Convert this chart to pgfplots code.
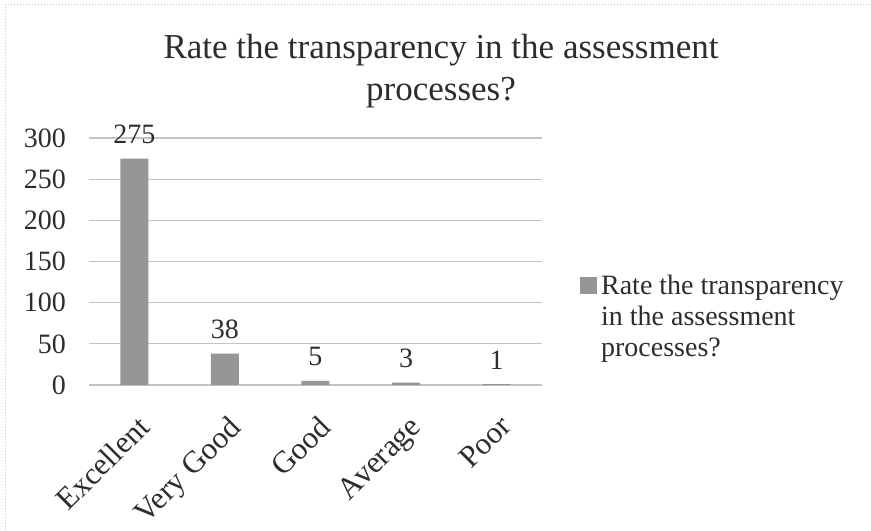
\documentclass[border=0pt]{standalone}
\usepackage{fontspec}
\setmainfont{Liberation Serif}
\usepackage{pgfplots}
\pgfplotsset{compat=1.18}
\definecolor{txt}{RGB}{45,45,45}
\definecolor{barc}{RGB}{150,150,150}
\definecolor{gridc}{RGB}{195,195,195}
\begin{document}
\begin{tikzpicture}
\useasboundingbox (0,0) rectangle (435.5pt,265pt);
\fill[white] (0,0) rectangle (435.5pt,265pt);
\draw[gridc, densely dotted, line width=0.5pt] (2.5pt,0) -- (2.5pt,262.5pt) -- (435.5pt,262.5pt);
\begin{axis}[
  at={(44.5pt,72.5pt)}, anchor=south west,
  scale only axis, width=226.5pt, height=123.5pt,
  xmin=-0.5, xmax=4.5, ymin=0, ymax=300,
  ytick={0,50,100,150,200,250,300},
  xtick={0,1,2,3,4},
  xticklabels={Excellent,Very Good,Good,Average,Poor},
  axis line style={draw=none},
  major tick length=0pt,
  ymajorgrids, grid style={gridc, line width=0.6pt},
  ybar, bar width=14pt,
  /pgf/number format/assume math mode=true,
  ticklabel style={font=\fontsize{14}{16}\selectfont, text=txt},
  yticklabel style={anchor=east, xshift=-8pt},
  xticklabel style={rotate=45, anchor=north east, yshift=-7.4pt, xshift=-6pt, font=\fontsize{15.5}{17}\selectfont},
  nodes near coords,
  every node near coord/.append style={font=\fontsize{14}{16}\selectfont, text=txt, anchor=base, yshift=7.5pt},
  clip=false,
  legend style={at={(1.07,0.274)}, anchor=west, draw=none, fill=none,
    cells={align=left, anchor=west}, font=\fontsize{14}{15.5}\selectfont, text=txt,
    /tikz/every even column/.append style={column sep=2pt}},
  legend image code/.code={\fill[barc] (0pt,11.5pt) rectangle (8.5pt,20pt);},
]
\addplot[fill=barc, draw=none] coordinates {(0,275) (1,38) (2,5) (3,3) (4,1)};
\addlegendentry{Rate the transparency\\in the assessment\\processes?}
\end{axis}
\node[anchor=base, font=\fontsize{17.5}{21}\selectfont, text=txt] at (220.5pt,235.5pt) {Rate the transparency in the assessment};
\node[anchor=base, font=\fontsize{17.5}{21}\selectfont, text=txt] at (220.5pt,214.5pt) {processes?};
\end{tikzpicture}
\end{document}
